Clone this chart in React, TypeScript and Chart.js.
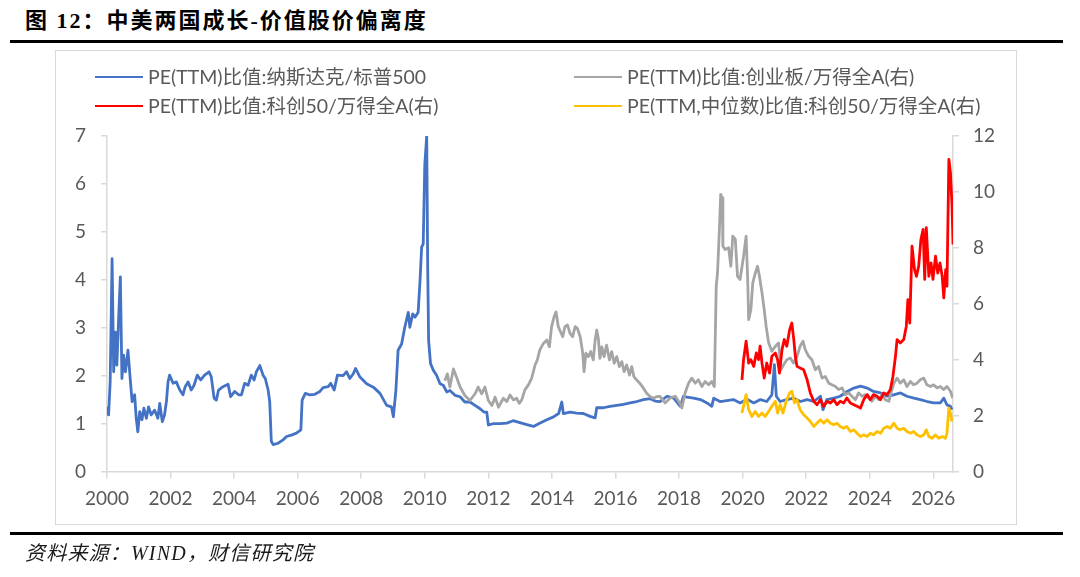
import React, { useEffect, useRef } from 'react'
import { Chart, LineController, LineElement, PointElement, LinearScale } from 'chart.js'

Chart.register(LineController, LineElement, PointElement, LinearScale)

const TITLE = '图 12：中美两国成长-价值股价偏离度'
const SOURCE = '资料来源：WIND，财信研究院'

const SERIES_NAMES = [
  'PE(TTM)比值:纳斯达克/标普500',
  'PE(TTM)比值:创业板/万得全A(右)',
  'PE(TTM)比值:科创50/万得全A(右)',
  'PE(TTM,中位数)比值:科创50/万得全A(右)',
]

const xTicks = [2000, 2002, 2004, 2006, 2008, 2010, 2012, 2014, 2016, 2018, 2020, 2022, 2024, 2026]

// 纳斯达克/标普500 (左轴)
const usYears = [
  2000.00, 2000.05, 2000.10, 2000.16, 2000.21, 2000.26, 2000.31, 2000.37, 2000.42, 2000.47, 2000.52, 2000.58,
  2000.66, 2000.73, 2000.79, 2000.87, 2000.92, 2000.97, 2001.03, 2001.10, 2001.16, 2001.24, 2001.31, 2001.39,
  2001.50, 2001.60, 2001.66, 2001.74, 2001.81, 2001.87, 2001.92, 2001.97, 2002.08, 2002.18, 2002.29, 2002.39,
  2002.46, 2002.55, 2002.65, 2002.74, 2002.84, 2002.95, 2003.07, 2003.21, 2003.28, 2003.37, 2003.44, 2003.51,
  2003.65, 2003.81, 2003.89, 2004.02, 2004.14, 2004.23, 2004.33, 2004.44, 2004.54, 2004.63, 2004.70, 2004.81,
  2004.91, 2004.98, 2005.07, 2005.12, 2005.17, 2005.23, 2005.38, 2005.54, 2005.65, 2005.80, 2005.96, 2006.10,
  2006.14, 2006.24, 2006.38, 2006.54, 2006.70, 2006.80, 2006.96, 2007.04, 2007.15, 2007.25, 2007.43, 2007.54,
  2007.64, 2007.75, 2007.82, 2007.96, 2008.17, 2008.38, 2008.59, 2008.80, 2008.95, 2009.01, 2009.09, 2009.16,
  2009.27, 2009.37, 2009.48, 2009.53, 2009.62, 2009.69, 2009.79, 2009.85, 2009.90, 2009.95, 2010.00, 2010.06,
  2010.09, 2010.12, 2010.18, 2010.27, 2010.37, 2010.48, 2010.58, 2010.69, 2010.79, 2010.95, 2011.11, 2011.26,
  2011.42, 2011.58, 2011.74, 2011.86, 2011.95, 2012.00, 2012.16, 2012.37, 2012.58, 2012.78, 2012.99, 2013.21,
  2013.42, 2013.63, 2013.84, 2014.05, 2014.21, 2014.31, 2014.36, 2014.57, 2014.78, 2014.99, 2015.20, 2015.36,
  2015.41, 2015.62, 2015.83, 2016.04, 2016.25, 2016.46, 2016.67, 2016.88, 2017.09, 2017.25, 2017.40, 2017.62,
  2017.83, 2018.04, 2018.14, 2018.25, 2018.46, 2018.67, 2018.88, 2019.03, 2019.09, 2019.29, 2019.50, 2019.71,
  2019.92, 2020.14, 2020.35, 2020.56, 2020.76, 2020.92, 2021.00, 2021.06, 2021.18, 2021.39, 2021.61, 2021.82,
  2022.03, 2022.24, 2022.45, 2022.53, 2022.65, 2022.87, 2023.07, 2023.29, 2023.50, 2023.71, 2023.92, 2024.12,
  2024.34, 2024.55, 2024.75, 2024.97, 2025.17, 2025.39, 2025.59, 2025.81, 2026.01, 2026.22, 2026.33, 2026.43,
  2026.54, 2026.59,
]
const usValues = [
  1.35, 1.18, 1.87, 4.44, 2.08, 2.91, 2.22, 3.26, 4.06, 1.94, 2.43, 2.08,
  2.53, 1.94, 1.46, 1.60, 1.11, 0.83, 1.25, 1.08, 1.32, 1.11, 1.35, 1.18,
  1.28, 1.11, 1.42, 1.04, 1.18, 1.46, 1.87, 2.01, 1.84, 1.87, 1.70, 1.60,
  1.77, 1.87, 1.70, 1.80, 2.01, 1.91, 2.01, 2.08, 1.98, 1.53, 1.49, 1.70,
  1.77, 1.82, 1.56, 1.67, 1.60, 1.60, 1.84, 1.80, 2.01, 1.91, 2.08, 2.21,
  2.01, 1.94, 1.70, 1.46, 0.63, 0.56, 0.59, 0.66, 0.73, 0.76, 0.80, 0.87,
  1.49, 1.63, 1.60, 1.61, 1.67, 1.75, 1.77, 1.84, 1.70, 2.01, 2.00, 2.08,
  1.94, 2.04, 2.15, 1.97, 1.83, 1.76, 1.63, 1.38, 1.35, 1.14, 1.69, 2.53,
  2.66, 3.01, 3.32, 3.01, 3.29, 3.22, 3.32, 3.98, 4.68, 4.75, 6.41, 7.00,
  4.33, 2.73, 2.25, 2.11, 2.01, 1.83, 1.80, 1.66, 1.69, 1.59, 1.56, 1.45,
  1.45, 1.38, 1.31, 1.24, 1.24, 0.97, 1.00, 1.00, 1.01, 1.06, 1.02, 0.98,
  0.94, 1.01, 1.08, 1.14, 1.21, 1.45, 1.21, 1.24, 1.22, 1.21, 1.15, 1.12,
  1.33, 1.33, 1.36, 1.38, 1.40, 1.43, 1.46, 1.50, 1.52, 1.47, 1.46, 1.57,
  1.53, 1.36, 1.57, 1.55, 1.53, 1.50, 1.43, 1.36, 1.53, 1.46, 1.48, 1.50,
  1.43, 1.51, 1.43, 1.50, 1.46, 1.60, 2.23, 1.57, 1.46, 1.50, 1.53, 1.46,
  1.50, 1.46, 1.57, 1.29, 1.50, 1.53, 1.57, 1.67, 1.74, 1.78, 1.74, 1.67,
  1.64, 1.57, 1.60, 1.64, 1.57, 1.53, 1.50, 1.46, 1.43, 1.43, 1.53, 1.39,
  1.36, 1.29,
]

// 创业板/万得全A (右轴)
const gemYears = [
  2010.63, 2010.71, 2010.79, 2010.90, 2011.00, 2011.11, 2011.26, 2011.42, 2011.58, 2011.68, 2011.79, 2011.89,
  2012.00, 2012.11, 2012.21, 2012.32, 2012.47, 2012.58, 2012.68, 2012.79, 2012.89, 2012.97, 2013.05, 2013.15,
  2013.26, 2013.36, 2013.47, 2013.54, 2013.62, 2013.73, 2013.84, 2013.92, 2013.99, 2014.07, 2014.13, 2014.20,
  2014.27, 2014.34, 2014.41, 2014.49, 2014.57, 2014.65, 2014.73, 2014.80, 2014.89, 2014.97, 2015.01, 2015.07,
  2015.15, 2015.22, 2015.30, 2015.36, 2015.41, 2015.46, 2015.51, 2015.57, 2015.64, 2015.72, 2015.81, 2015.88,
  2015.96, 2016.04, 2016.12, 2016.20, 2016.27, 2016.35, 2016.44, 2016.51, 2016.58, 2016.67, 2016.77, 2016.88,
  2016.98, 2017.09, 2017.19, 2017.30, 2017.40, 2017.56, 2017.72, 2017.88, 2018.02, 2018.09, 2018.19, 2018.30,
  2018.40, 2018.51, 2018.61, 2018.72, 2018.82, 2018.93, 2019.03, 2019.11, 2019.17, 2019.21, 2019.27, 2019.31,
  2019.36, 2019.38, 2019.45, 2019.56, 2019.63, 2019.69, 2019.77, 2019.84, 2019.92, 2020.03, 2020.11, 2020.16,
  2020.19, 2020.26, 2020.32, 2020.40, 2020.47, 2020.53, 2020.61, 2020.68, 2020.74, 2020.82, 2020.92, 2021.03,
  2021.13, 2021.21, 2021.29, 2021.39, 2021.50, 2021.60, 2021.71, 2021.81, 2021.90, 2021.97, 2022.08, 2022.18,
  2022.29, 2022.39, 2022.50, 2022.60, 2022.71, 2022.81, 2022.92, 2023.02, 2023.13, 2023.23, 2023.34, 2023.44,
  2023.55, 2023.65, 2023.76, 2023.86, 2023.97, 2024.07, 2024.18, 2024.28, 2024.39, 2024.49, 2024.60, 2024.67,
  2024.76, 2024.86, 2024.96, 2025.07, 2025.17, 2025.28, 2025.38, 2025.49, 2025.59, 2025.70, 2025.80, 2025.91,
  2026.01, 2026.12, 2026.22, 2026.33, 2026.43, 2026.54, 2026.61,
]
const gemValues = [
  3.25, 3.49, 3.02, 3.67, 3.37, 3.02, 2.72, 2.54, 2.78, 3.02, 2.78, 3.02,
  2.54, 2.36, 2.66, 2.30, 2.62, 2.50, 2.74, 2.56, 2.62, 2.44, 2.56, 2.92,
  3.10, 3.33, 3.81, 3.99, 4.35, 4.58, 4.70, 4.46, 5.18, 5.54, 5.71, 5.18,
  5.00, 4.82, 5.18, 5.24, 4.94, 4.82, 5.18, 5.12, 4.82, 4.23, 3.57, 4.23,
  4.11, 4.29, 3.99, 4.70, 5.06, 4.76, 4.05, 4.46, 4.11, 4.52, 3.99, 4.29,
  3.87, 4.11, 3.75, 3.93, 3.57, 3.81, 3.45, 3.75, 3.39, 3.27, 3.15, 2.98,
  2.80, 2.68, 2.62, 2.68, 2.69, 2.45, 2.63, 2.69, 2.45, 2.27, 2.81, 3.16,
  3.34, 3.16, 3.28, 3.04, 3.22, 3.10, 3.22, 3.04, 6.63, 7.10, 8.66, 9.91,
  9.79, 8.06, 7.94, 8.00, 7.34, 8.42, 8.30, 6.98, 6.87, 7.70, 8.42, 6.87,
  5.43, 5.79, 6.75, 7.10, 7.34, 6.98, 6.39, 5.79, 5.19, 4.60, 4.30, 4.48,
  4.60, 3.64, 3.82, 4.00, 4.06, 3.88, 4.12, 4.48, 4.66, 4.36, 4.12, 4.00,
  3.64, 3.76, 3.34, 3.40, 3.16, 3.10, 3.04, 2.93, 2.99, 2.75, 2.81, 2.69,
  2.57, 2.81, 2.69, 2.75, 2.63, 2.51, 2.69, 2.57, 2.75, 2.57, 2.51, 2.81,
  3.16, 3.34, 3.16, 3.28, 3.04, 3.22, 3.10, 3.16, 3.28, 3.34, 3.10, 3.04,
  3.10, 2.99, 3.04, 2.93, 3.04, 2.87, 2.63,
]

// 科创50/万得全A (右轴)
const starYears = [
  2019.98, 2020.03, 2020.11, 2020.19, 2020.26, 2020.35, 2020.43, 2020.50, 2020.55, 2020.61, 2020.68, 2020.76,
  2020.85, 2020.92, 2021.03, 2021.10, 2021.16, 2021.24, 2021.31, 2021.39, 2021.48, 2021.55, 2021.61, 2021.66,
  2021.71, 2021.81, 2021.92, 2022.03, 2022.13, 2022.24, 2022.34, 2022.45, 2022.55, 2022.66, 2022.76, 2022.87,
  2022.97, 2023.07, 2023.18, 2023.28, 2023.39, 2023.50, 2023.60, 2023.71, 2023.81, 2023.92, 2024.02, 2024.12,
  2024.23, 2024.34, 2024.44, 2024.55, 2024.65, 2024.73, 2024.81, 2024.86, 2024.96, 2025.07, 2025.15, 2025.20,
  2025.26, 2025.33, 2025.41, 2025.47, 2025.54, 2025.61, 2025.68, 2025.73, 2025.78, 2025.86, 2025.93, 2025.99,
  2026.07, 2026.14, 2026.21, 2026.28, 2026.33, 2026.39, 2026.43, 2026.49, 2026.54, 2026.59, 2026.62,
]
const starValues = [
  3.28, 4.00, 4.66, 3.88, 4.00, 3.76, 4.24, 4.00, 4.48, 3.88, 3.34, 3.88,
  3.52, 4.12, 4.24, 4.00, 3.52, 4.36, 4.72, 4.48, 5.07, 5.31, 4.72, 4.12,
  3.76, 3.70, 3.64, 3.28, 2.81, 2.51, 2.39, 2.57, 2.33, 2.51, 2.45, 2.57,
  2.39, 2.51, 2.45, 2.63, 2.45, 2.39, 2.33, 2.27, 2.57, 2.75, 2.57, 2.75,
  2.69, 2.57, 2.81, 2.75, 2.93, 3.40, 4.12, 4.72, 4.60, 4.72, 5.19, 6.15,
  5.31, 8.06, 7.22, 6.98, 7.34, 8.30, 8.66, 6.87, 8.72, 6.98, 7.46, 6.87,
  7.70, 7.10, 7.46, 6.98, 6.21, 7.22, 6.63, 11.16, 10.69, 9.49, 8.12,
]

// 科创50/万得全A 中位数 (右轴)
const medianYears = [
  2019.98, 2020.05, 2020.11, 2020.19, 2020.29, 2020.40, 2020.50, 2020.61, 2020.71, 2020.82, 2020.92, 2021.03,
  2021.10, 2021.18, 2021.27, 2021.37, 2021.48, 2021.55, 2021.63, 2021.71, 2021.81, 2021.92, 2022.03, 2022.13,
  2022.24, 2022.34, 2022.45, 2022.55, 2022.66, 2022.76, 2022.87, 2022.97, 2023.07, 2023.18, 2023.28, 2023.39,
  2023.50, 2023.60, 2023.71, 2023.81, 2023.92, 2024.02, 2024.12, 2024.23, 2024.34, 2024.44, 2024.55, 2024.65,
  2024.76, 2024.86, 2024.96, 2025.07, 2025.17, 2025.28, 2025.38, 2025.49, 2025.59, 2025.70, 2025.78, 2025.86,
  2025.96, 2026.07, 2026.17, 2026.28, 2026.38, 2026.43, 2026.49, 2026.54, 2026.59,
]
const medianValues = [
  2.09, 2.45, 2.75, 2.21, 1.97, 2.15, 1.97, 2.09, 1.97, 2.15, 2.33, 2.51,
  2.09, 2.39, 2.09, 2.51, 2.81, 2.87, 2.45, 2.57, 2.21, 2.03, 1.91, 1.79,
  1.61, 1.73, 1.85, 1.73, 1.85, 1.73, 1.67, 1.73, 1.61, 1.55, 1.61, 1.43,
  1.49, 1.37, 1.25, 1.31, 1.25, 1.37, 1.31, 1.43, 1.37, 1.55, 1.61, 1.55,
  1.73, 1.55, 1.49, 1.55, 1.43, 1.37, 1.43, 1.31, 1.25, 1.31, 1.49, 1.25,
  1.19, 1.31, 1.19, 1.25, 1.19, 1.37, 2.27, 2.09, 1.79,
]

const COLORS = ['#4472C4', '#A5A5A5', '#FF0000', '#FFC000']
const TICK_FONT = { family: "Lato, 'Noto Sans CJK SC', sans-serif", size: 19 }
const AXIS_GREY = '#D9D9D9'

const toPoints = (xs: number[], ys: number[]) => xs.map((x, i) => ({ x, y: ys[i] }))

export default function App() {
  const canvasRef = useRef<HTMLCanvasElement>(null)

  useEffect(() => {
    if (!canvasRef.current) return
    const line = (i: number, xs: number[], ys: number[], axis: string, order: number) => ({
      label: SERIES_NAMES[i],
      data: toPoints(xs, ys),
      yAxisID: axis,
      borderColor: COLORS[i],
      backgroundColor: COLORS[i],
      borderWidth: 2.8,
      borderJoinStyle: 'round',
      pointRadius: 0,
      tension: 0,
      order,
    })
    const chart = new Chart(canvasRef.current, {
      type: 'line',
      data: {
        datasets: [
          line(0, usYears, usValues, 'y', 3),
          line(1, gemYears, gemValues, 'y1', 2),
          line(2, starYears, starValues, 'y1', 1),
          line(3, medianYears, medianValues, 'y1', 0),
        ],
      },
      options: {
        responsive: false,
        animation: false,
        layout: { padding: { top: 136, left: 0, right: 0, bottom: 0 } },
        plugins: { legend: { display: false }, tooltip: { enabled: false } },
        scales: {
          x: {
            type: 'linear',
            position: 'bottom',
            min: 2000,
            max: 2026.62,
            afterBuildTicks: (s: any) => { s.ticks = xTicks.map(v => ({ value: v })) },
            afterFit: (s: any) => { s.height = 105.5 },
            ticks: { color: '#595959', font: TICK_FONT, padding: 9, maxRotation: 0, autoSkip: false, callback: (v: any) => String(v) },
            grid: { drawOnChartArea: false, drawTicks: true, tickLength: 7, color: AXIS_GREY, lineWidth: 1.5 },
            border: { color: AXIS_GREY, width: 1.5 },
          },
          y: {
            type: 'linear',
            position: 'left',
            min: 0,
            max: 7,
            afterFit: (s: any) => { s.width = 107 },
            ticks: { stepSize: 1, color: '#595959', font: TICK_FONT, padding: 15 },
            grid: { drawOnChartArea: false, drawTicks: true, tickLength: 6, color: AXIS_GREY, lineWidth: 1.5 },
            border: { color: AXIS_GREY, width: 1.5 },
          },
          y1: {
            type: 'linear',
            position: 'right',
            min: 0,
            max: 12,
            afterFit: (s: any) => { s.width = 127 },
            ticks: { stepSize: 2, color: '#595959', font: TICK_FONT, padding: 14 },
            grid: { drawOnChartArea: false, drawTicks: true, tickLength: 6, color: AXIS_GREY, lineWidth: 1.5 },
            border: { color: AXIS_GREY, width: 1.5 },
          },
        },
      },
    } as any)
    return () => { chart.destroy() }
  }, [])

  const legendFont = "Lato, 'Noto Sans CJK SC', sans-serif"
  const legendItem = (i: number, left: number, top: number) => (
    <div key={i} style={{ position: 'absolute', left, top: top - 13, height: 26, display: 'flex', alignItems: 'center' }}>
      <div style={{ width: 48, height: 2.6, background: COLORS[i] }} />
      <span style={{ marginLeft: 5, fontSize: 19.5, color: '#595959', fontFamily: legendFont, whiteSpace: 'nowrap', lineHeight: '26px' }}>
        {SERIES_NAMES[i]}
      </span>
    </div>
  )

  return (
    <div style={{ position: 'absolute', left: 0, top: 0, width: 1080, height: 577, background: '#fff', overflow: 'hidden' }}>
      <div style={{
        position: 'absolute', left: 25, top: 7, fontSize: 22, fontWeight: 700, letterSpacing: 2,
        fontFamily: "'Liberation Serif', 'Noto Sans CJK SC', serif", color: '#000', lineHeight: '28px', whiteSpace: 'nowrap',
      }}>{TITLE}</div>
      <div style={{ position: 'absolute', left: 10, top: 40, width: 1053, height: 3, background: '#000' }} />
      <div style={{ position: 'absolute', left: 55, top: 50, width: 962, height: 475, border: '1px solid #D9D9D9', boxSizing: 'border-box' }} />
      <canvas ref={canvasRef} width={1080} height={577} style={{ position: 'absolute', left: 0, top: 0, width: 1080, height: 577 }} />
      {legendItem(0, 95, 77)}
      {legendItem(2, 95, 106)}
      {legendItem(1, 574, 77)}
      {legendItem(3, 574, 106)}
      <div style={{ position: 'absolute', left: 10, top: 532, width: 1053, height: 3, background: '#000' }} />
      <div style={{
        position: 'absolute', left: 25, top: 539, fontSize: 20, fontStyle: 'italic', letterSpacing: 1.2,
        fontFamily: "'Liberation Serif', 'Noto Sans CJK SC', serif", color: '#1a1a1a', lineHeight: '28px', whiteSpace: 'nowrap',
      }}>{SOURCE}</div>
    </div>
  )
}
